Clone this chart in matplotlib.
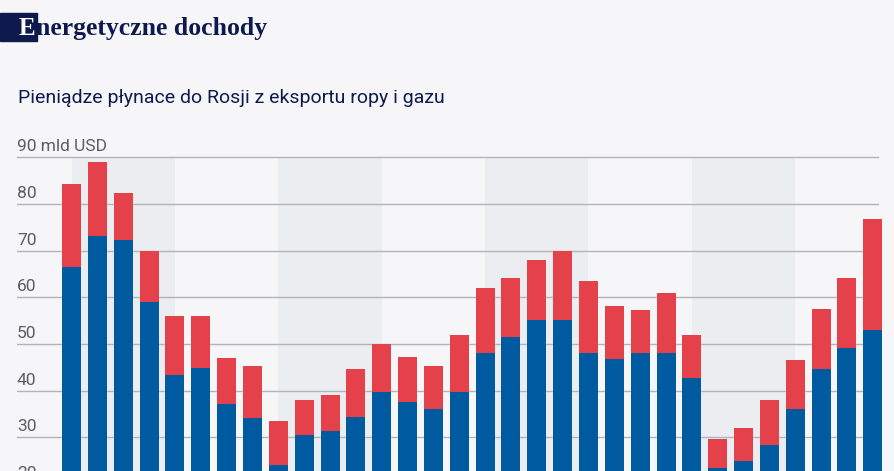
import matplotlib.pyplot as plt
from matplotlib.patches import Rectangle

# wartosci, mld USD (ropa = niebieski, gaz = czerwony)
ropa = [66.5, 73.1, 72.3, 59.1, 43.3, 44.9, 37.2, 34.1,
        24.0, 30.5, 31.4, 34.4, 39.7, 37.6, 36.0, 39.7,
        48.0, 51.6, 55.2, 55.2, 48.0, 46.8, 48.0, 48.0,
        42.8, 23.4, 25.0, 28.3, 36.0, 44.7, 49.2, 53.0]
gaz = [17.8, 15.8, 10.1, 10.9, 12.7, 11.1, 9.9, 11.2,
       9.6, 7.5, 7.7, 10.2, 10.3, 9.7, 9.3, 12.3,
       14.1, 12.6, 12.7, 14.8, 15.6, 11.4, 9.3, 12.9,
       9.2, 6.2, 7.1, 9.7, 10.5, 12.8, 15.0, 23.7]
yticks = [20, 30, 40, 50, 60, 70, 80, 90]
ytick_labels = ['20', '30', '40', '50', '60', '70', '80', '90 mld USD']
band_starts = [0, 8, 16, 24]

BG = '#f6f6f9'
NAVY = '#0e1a4e'
BLUE = '#005aa0'
RED = '#e5414a'

W, H = 894, 471
fig = plt.figure(figsize=(W / 100, H / 100), dpi=100, facecolor=BG)

# os rozciaga sie ponizej dolnej krawedzi, jak na oryginale (obciety wykres)
px0, px_top = 577.3, 148.0
ax = fig.add_axes([17 / W, 1 - px0 / H, 1 - 17 / W, (px0 - px_top) / H])
ax.set_facecolor(BG)
ax.set_xlim(-2.11, 31.82)
ax.set_ylim(0, 92)
for s in ax.spines.values():
    s.set_visible(False)
ax.set_xticks([])
ax.set_yticks([])

for b in band_starts:
    ax.axvspan(b, b + 4, ymin=0, ymax=89.8 / 92, color='#ecedf1', lw=0, zorder=0)

grid_end = (31.2 + 2.11) / (31.82 + 2.11)
for v, lab in zip(yticks, ytick_labels):
    ax.axhline(v, xmin=0, xmax=grid_end, color='#b3b3b8', lw=1.0, zorder=1)
    ax.annotate(lab, (-2.11, v), xytext=(0, 3), textcoords='offset pixels',
                ha='left', va='bottom', fontsize=12.5, color='#5c5c62',
                family='Roboto')

x = list(range(len(ropa)))
ax.bar(x, ropa, width=0.735, color=BLUE, zorder=2)
ax.bar(x, gaz, width=0.735, bottom=ropa, color=RED, zorder=2)

# naglowek
fig.patches.append(Rectangle((0, 1 - 40.7 / H), 37 / W, 28 / H,
                             transform=fig.transFigure, color=NAVY, zorder=0))
fig.text(19 / W, 1 - 35.3 / H, 'E', color='white', fontsize=18,
         family='Liberation Serif', weight='bold', va='baseline')
fig.text(36.5 / W, 1 - 35.3 / H, 'nergetyczne dochody', color=NAVY, fontsize=18.5,
         family='Liberation Serif', weight='bold', va='baseline')
fig.text(18 / W, 1 - 103 / H, 'Pieniądze płynace do Rosji z eksportu ropy i gazu',
         color=NAVY, fontsize=14, family='Roboto', va='baseline')

fig.savefig('out.png', dpi=100, facecolor=BG)
